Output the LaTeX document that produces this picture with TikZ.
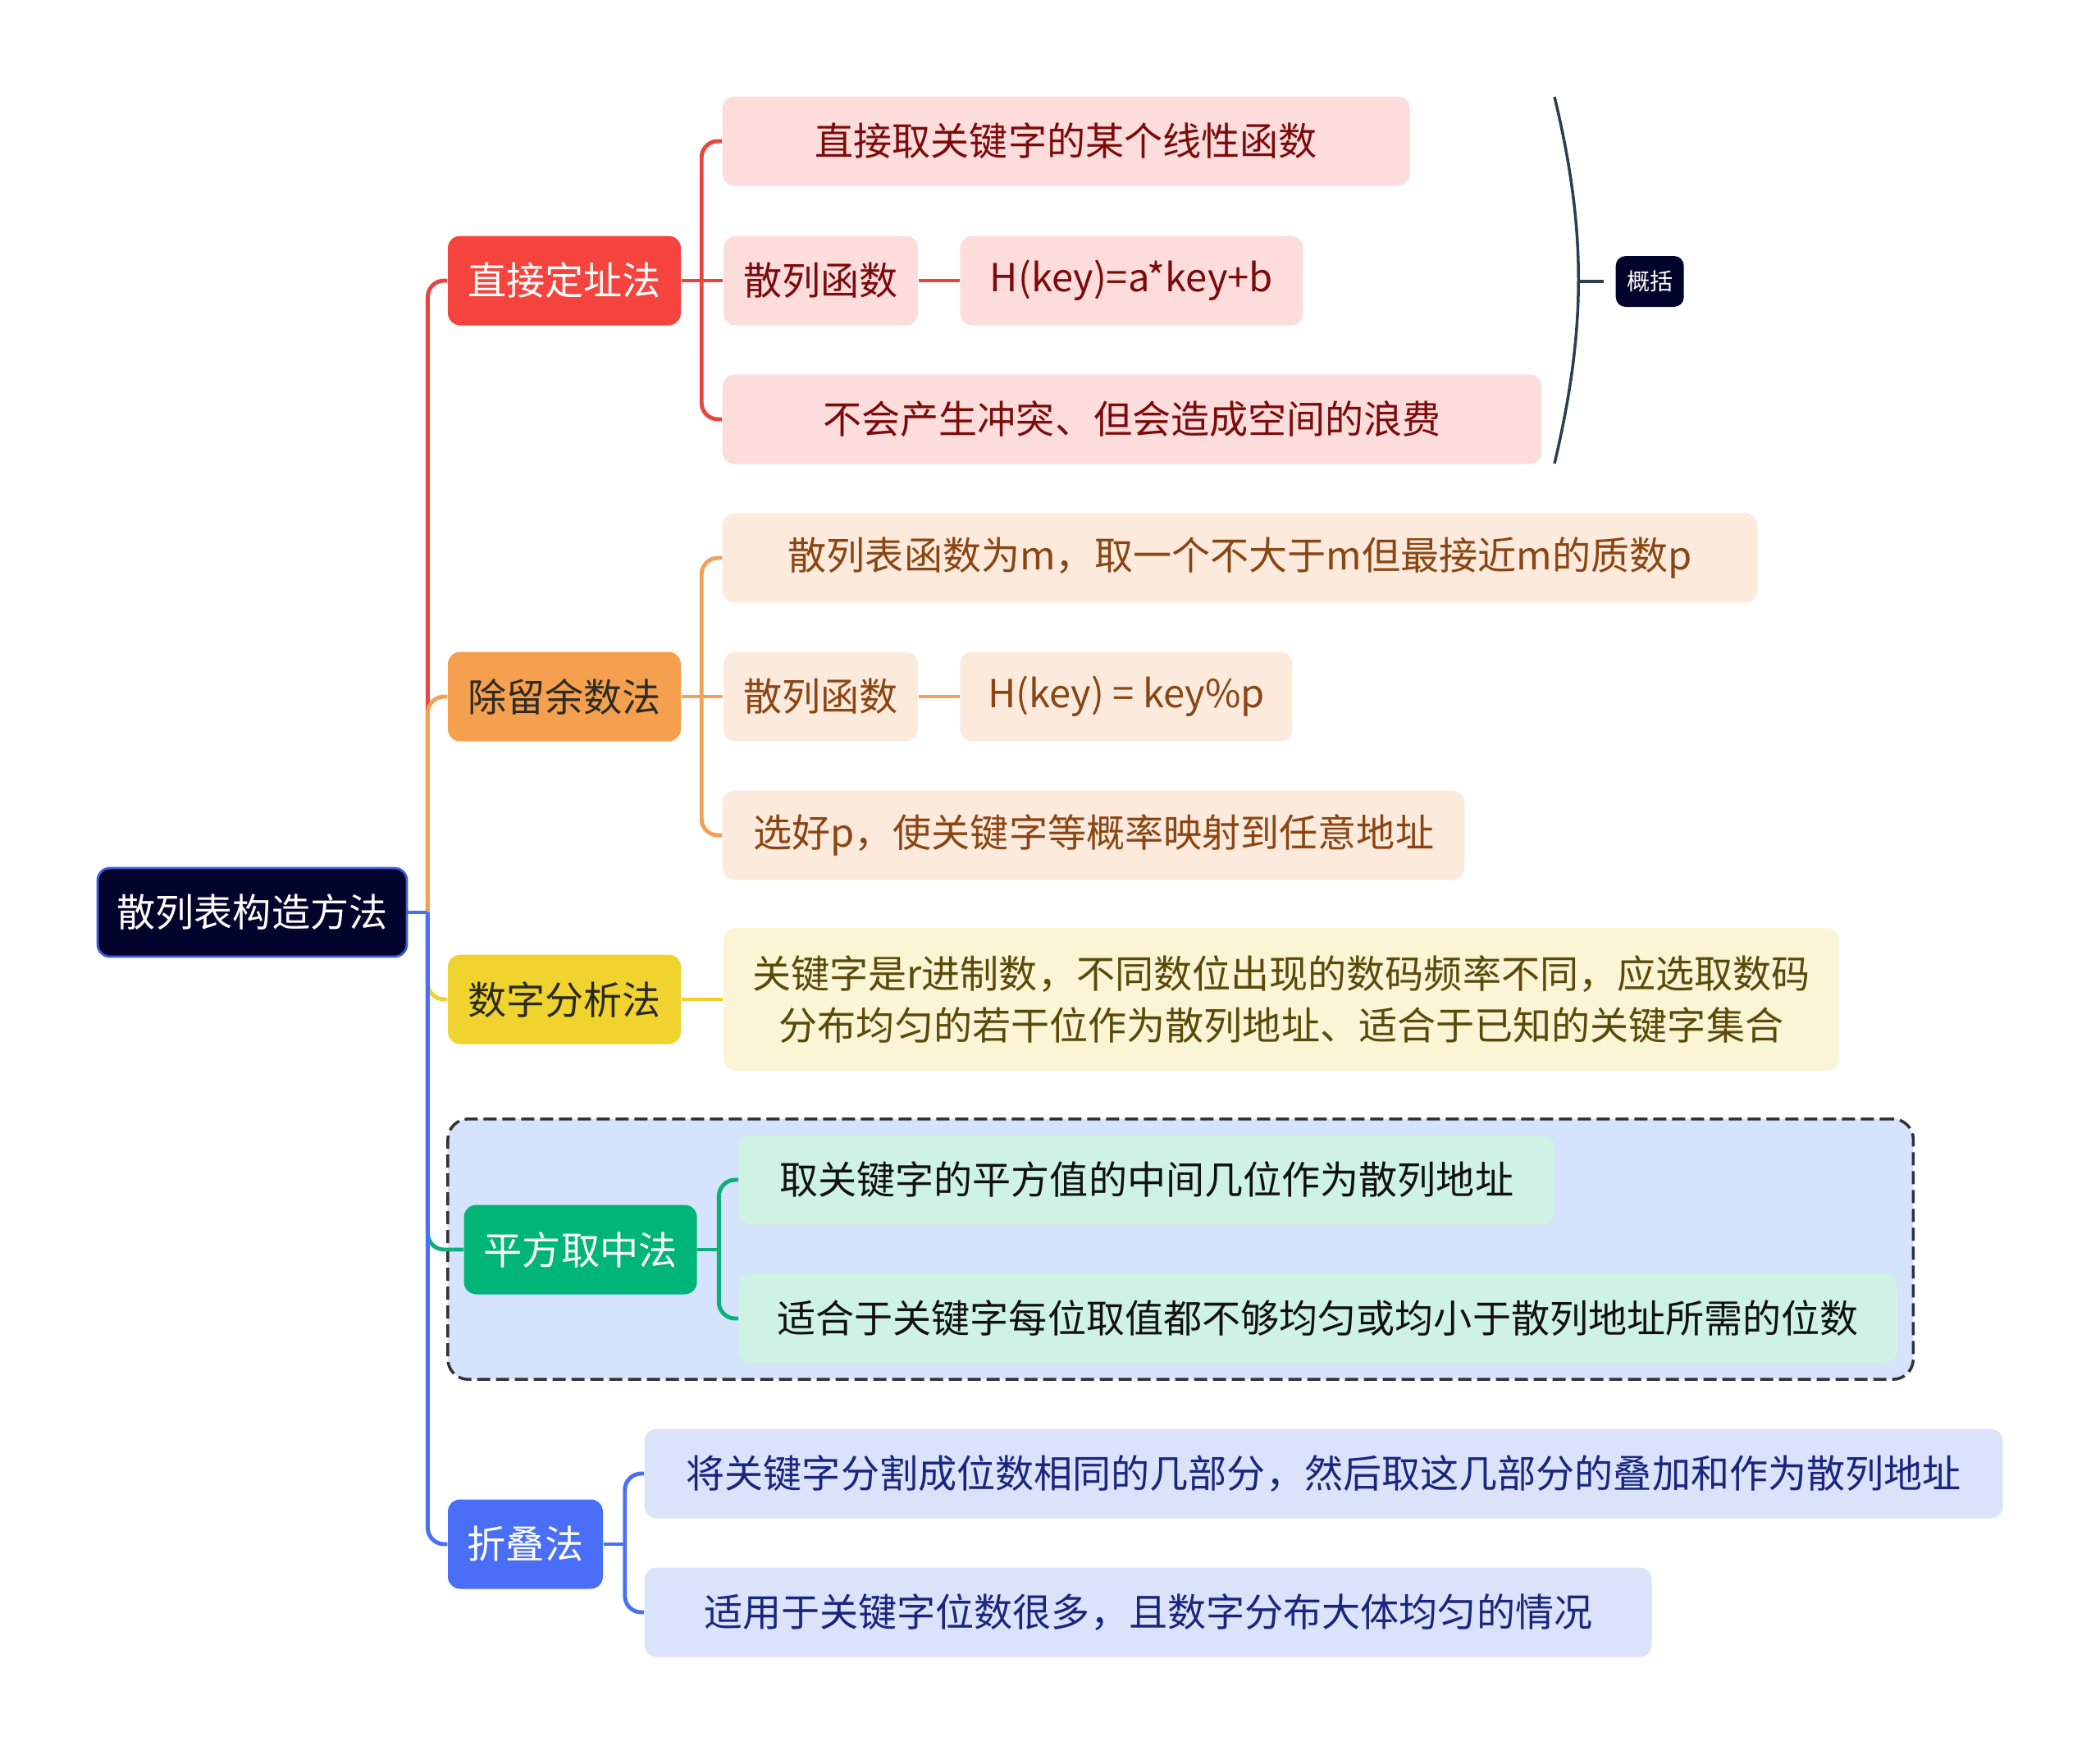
\documentclass[tikz,border=0pt]{standalone}
\usepackage{fontspec}
\setmainfont{Noto Sans CJK SC}
\usetikzlibrary{positioning,fit,backgrounds}
\definecolor{rootbg}{HTML}{03042B}
\definecolor{rootln}{HTML}{3D5EE0}
\definecolor{redM}{HTML}{F5443D}
\definecolor{redL}{HTML}{E8453E}
\definecolor{redC}{HTML}{FDDCDC}
\definecolor{redT}{HTML}{7D0A0A}
\definecolor{orgM}{HTML}{F5A04F}
\definecolor{orgL}{HTML}{F2A05A}
\definecolor{orgC}{HTML}{FCEBDD}
\definecolor{orgT}{HTML}{2E2A24}
\definecolor{orgTT}{HTML}{8B4513}
\definecolor{yelM}{HTML}{F1D330}
\definecolor{yelL}{HTML}{F0D030}
\definecolor{yelC}{HTML}{FBF5D5}
\definecolor{yelT}{HTML}{2A2A1A}
\definecolor{yelTT}{HTML}{5A4A0A}
\definecolor{grnM}{HTML}{00B578}
\definecolor{grnL}{HTML}{0DB07A}
\definecolor{grnC}{HTML}{CFF3E2}
\definecolor{grnT}{HTML}{111111}
\definecolor{bluM}{HTML}{4A6EF5}
\definecolor{bluC}{HTML}{DAE3FA}
\definecolor{bluT}{HTML}{1A2580}
\definecolor{grpbg}{HTML}{D5E3FC}
\definecolor{grpln}{HTML}{333333}
\definecolor{brcln}{HTML}{2C3E50}
\begin{document}
\begin{tikzpicture}[x=1mm, y=-1mm, font=\fontsize{13.4}{18.1}\selectfont,
  b/.style={rounded corners=1.5mm, anchor=west, align=center, inner xsep=1.5mm, inner ysep=1mm, minimum height=10.9mm},
  rt/.style={b, fill=rootbg, draw=rootln, line width=0.8pt, text=white, minimum height=10.8mm},
  rm/.style={b, fill=redM, text=white, minimum width=28.4mm},
  rc/.style={b, fill=redC, text=redT},
  om/.style={b, fill=orgM, text=orgT, minimum width=28.4mm},
  oc/.style={b, fill=orgC, text=orgTT},
  ym/.style={b, fill=yelM, text=yelT, minimum width=28.4mm},
  yc/.style={b, fill=yelC, text=yelTT},
  gm/.style={b, fill=grnM, text=white, minimum width=28.4mm},
  gc/.style={b, fill=grnC, text=grnT},
  bm/.style={b, fill=bluM, text=white},
  bc/.style={b, fill=bluC, text=bluT},
  sm/.style={b, fill=rootbg, text=white, font=\fontsize{8}{9}\selectfont, minimum height=6.2mm, minimum width=8.3mm, inner xsep=0.5mm, rounded corners=1.2mm},
  grp/.style={rounded corners=2.5mm, draw=grpln, line width=1pt, dash pattern=on 1.6mm off 0.7mm, fill=grpbg, inner sep=1.9mm},
  ln/.style={line width=1.4pt, rounded corners=2mm},
  brc/.style={draw=brcln, line width=1pt}]
\useasboundingbox (0,0) rectangle (256,213.9);
\node[rt, minimum width=37.7mm] (root) at (11.76,111.2) {散列表构造方法};
\node[rm] (m1) at (54.53,34.2) {直接定址法};
\node[om] (m2) at (54.53,84.9) {除留余数法};
\node[ym] (m3) at (54.53,121.8) {数字分析法};
\node[gm] (m4) at (56.49,152.3) {平方取中法};
\node[bm, minimum width=18.9mm] (m5) at (54.53,188.2) {折叠法};
\node[rc, minimum width=83.8mm] (c1) at (88,17.2) {直接取关键字的某个线性函数};
\node[rc, minimum width=23.7mm, right=5.06mm of m1] (c2) {散列函数};
\node[rc, minimum width=41.8mm, right=5mm of c2] (c4) {H(key)=a*key+b};
\node[rc, minimum width=99.9mm] (c3) at (88,51.1) {不会产生冲突、但会造成空间的浪费};
\node[oc, minimum width=126.2mm] (d1) at (88,68) {散列表函数为m，取一个不大于m但最接近m的质数p};
\node[oc, minimum width=23.7mm, right=5.06mm of m2] (d2) {散列函数};
\node[oc, minimum width=40.5mm, right=5mm of d2] (d4) {H(key) = key\%p};
\node[oc, minimum width=90.5mm] (d3) at (88,101.8) {选好p，使关键字等概率映射到任意地址};
\node[yc, minimum width=136mm, minimum height=17.4mm, right=5.06mm of m3] (y1) {关键字是r进制数，不同数位出现的数码频率不同，应选取数码\\分布均匀的若干位作为散列地址、适合于已知的关键字集合};
\node[gc, minimum width=99.4mm] (g1) at (90,143.8) {取关键字的平方值的中间几位作为散列地址};
\node[gc, minimum width=141.2mm] (g2) at (90,160.7) {适合于关键字每位取值都不够均匀或均小于散列地址所需的位数};
\node[bc, minimum width=165.6mm] (f1) at (78.5,179.6) {将关键字分割成位数相同的几部分，然后取这几部分的叠加和作为散列地址};
\node[bc, minimum width=122.8mm] (f2) at (78.5,196.5) {适用于关键字位数很多，且数字分布大体均匀的情况};
\node[sm] (sum) at (196.9,34.3) {概括};
\begin{scope}[on background layer]
\node[grp, fit=(m4)(g1)(g2)] (G) {};
\end{scope}
\coordinate[right=2.4mm of root] (j0);
\coordinate[right=2.45mm of m1] (j1);
\coordinate[right=2.45mm of m2] (j2);
\coordinate[right=2.6mm of m4] (j4);
\coordinate[right=2.6mm of m5] (j5);
\draw[ln, redL] (j0) |- (m1.west);
\draw[ln, orgL] (j0) |- (m2.west);
\draw[ln, yelL] (j0) |- (m3.west);
\draw[ln, grnL] (j0) |- (m4.west);
\draw[ln, bluM] (j0) |- (m5.west);
\draw[ln, bluM] (root.east) -- (j0);
\draw[ln, redL] (m1.east) -- (c2.west);
\draw[ln, redL] (j1) |- (c1.west);
\draw[ln, redL] (j1) |- (c3.west);
\draw[ln, redL] (c2.east) -- (c4.west);
\draw[ln, orgL] (m2.east) -- (d2.west);
\draw[ln, orgL] (j2) |- (d1.west);
\draw[ln, orgL] (j2) |- (d3.west);
\draw[ln, orgL] (d2.east) -- (d4.west);
\draw[ln, yelL] (m3.east) -- (y1.west);
\draw[ln, grnL] (m4.east) -- (j4);
\draw[ln, grnL] (j4) |- (g1.west);
\draw[ln, grnL] (j4) |- (g2.west);
\draw[ln, bluM] (m5.east) -- (j5);
\draw[ln, bluM] (j5) |- (f1.west);
\draw[ln, bluM] (j5) |- (f2.west);
\coordinate (s1) at (189.5,11.8);
\coordinate (s2) at (189.5,56.5);
\coordinate (s0) at (192.4,34.3);
\coordinate (s3) at (195.5,34.3);
\draw[brc] (s1) .. controls (193.4,28) and (193.4,40) .. (s2);
\draw[brc] (s0) -- (s3);
\end{tikzpicture}
\end{document}
